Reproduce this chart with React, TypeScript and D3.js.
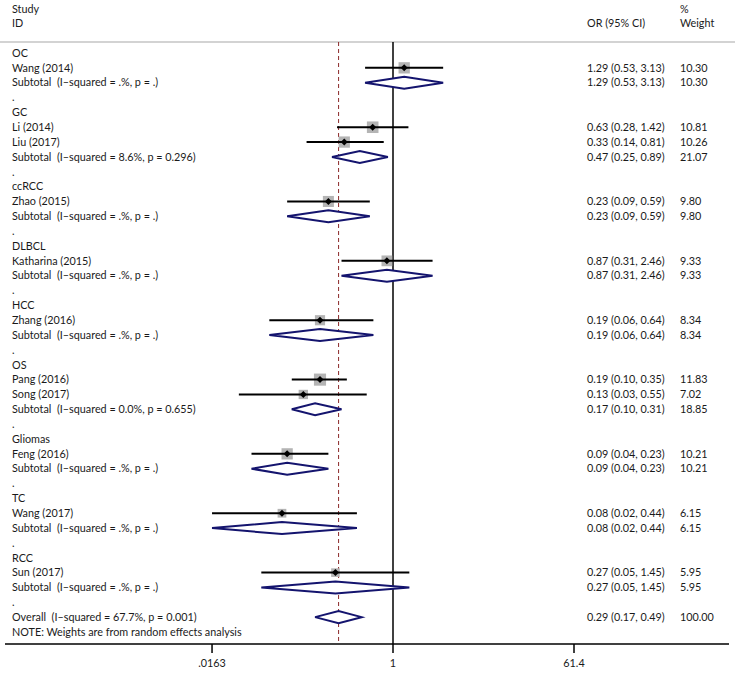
import * as d3 from 'd3';

// group headings
const groups = ['OC', 'GC', 'ccRCC', 'DLBCL', 'HCC', 'OS', 'Gliomas', 'TC', 'RCC'];

// individual studies
const studies = ['Wang (2014)', 'Li (2014)', 'Liu (2017)', 'Zhao (2015)', 'Katharina (2015)', 'Zhang (2016)',
  'Pang (2016)', 'Song (2017)', 'Feng (2016)', 'Wang (2017)', 'Sun (2017)'];
const studyGroup = [0, 1, 1, 2, 3, 4, 5, 5, 6, 7, 8];
const studyOR = [1.29, 0.63, 0.33, 0.23, 0.87, 0.19, 0.19, 0.13, 0.09, 0.08, 0.27];
const studyLo = [0.53, 0.28, 0.14, 0.09, 0.31, 0.06, 0.10, 0.03, 0.04, 0.0163, 0.05];
const studyHi = [3.13, 1.42, 0.81, 0.59, 2.46, 0.64, 0.35, 0.55, 0.23, 0.44, 1.45];
const studyWeight = [10.30, 10.81, 10.26, 9.80, 9.33, 8.34, 11.83, 7.02, 10.21, 6.15, 5.95];

// subtotals per group
const subHet = ['.%, p = .', '8.6%, p = 0.296', '.%, p = .', '.%, p = .', '.%, p = .',
  '0.0%, p = 0.655', '.%, p = .', '.%, p = .', '.%, p = .'];
const subOR = [1.29, 0.47, 0.23, 0.87, 0.19, 0.17, 0.09, 0.08, 0.27];
const subLo = [0.53, 0.25, 0.09, 0.31, 0.06, 0.10, 0.04, 0.0163, 0.05];
const subHi = [3.13, 0.89, 0.59, 2.46, 0.64, 0.31, 0.23, 0.44, 1.45];
const subWeight = [10.30, 21.07, 9.80, 9.33, 8.34, 18.85, 10.21, 6.15, 5.95];

// overall
const overallHet = '67.7%, p = 0.001';
const overallOR = 0.29;
const overallLo = 0.17;
const overallHi = 0.49;
const overallWeight = 100.0;

const axisTicks = [0.0163, 1, 61.4];
const axisTickLabels = ['.0163', '1', '61.4'];

const W = 735;
const H = 675;
const FONT = 'Lato, "Open Sans", sans-serif';
const NAVY = '#14146e';
const f2 = d3.format('.2f');

type Row =
  | { kind: 'group'; label: string }
  | { kind: 'study'; label: string; or: number; lo: number; hi: number; w: number }
  | { kind: 'sub'; label: string; or: number; lo: number; hi: number; w: number }
  | { kind: 'dot' }
  | { kind: 'note'; label: string };

function buildRows(): Row[] {
  const rows: Row[] = [];
  groups.forEach((g, gi) => {
    rows.push({ kind: 'group', label: g });
    studies.forEach((s, si) => {
      if (studyGroup[si] === gi)
        rows.push({ kind: 'study', label: s, or: studyOR[si], lo: studyLo[si], hi: studyHi[si], w: studyWeight[si] });
    });
    rows.push({ kind: 'sub', label: `Subtotal  (I\u2013squared = ${subHet[gi]})`, or: subOR[gi], lo: subLo[gi], hi: subHi[gi], w: subWeight[gi] });
    rows.push({ kind: 'dot' });
  });
  rows.push({ kind: 'sub', label: `Overall  (I\u2013squared = ${overallHet})`, or: overallOR, lo: overallLo, hi: overallHi, w: overallWeight });
  rows.push({ kind: 'note', label: 'NOTE: Weights are from random effects analysis' });
  return rows;
}

export default function App() {
  const rows = buildRows();
  const x = d3.scaleLog().domain([1 / 61.4, 61.4]).range([212, 574]);
  const y = d3.scaleLinear().domain([0, rows.length - 1]).range([53, 632]);
  const side = d3.scaleSqrt().domain([0, 12]).range([0, 12.2]);

  const top = 42;
  const axisY = 644;
  const xLabel = 12;
  const xOR = 587;
  const xW = 680;

  const textProps = { fontFamily: FONT, fontSize: 10.8, fill: '#1a1a1a' };

  return (
    <div style={{ position: 'absolute', left: 0, top: 0 }}>
      <svg width={W} height={H} style={{ display: 'block', background: '#fff' }}>
        {/* header */}
        <g {...textProps}>
          <text x={xLabel} y={9} dy="0.35em">Study</text>
          <text x={xLabel} y={23} dy="0.35em">ID</text>
          <text x={xOR} y={23} dy="0.35em">OR (95% CI)</text>
          <text x={xW} y={9} dy="0.35em">%</text>
          <text x={xW} y={23} dy="0.35em">Weight</text>
        </g>
        <line x1={0} x2={W} y1={top} y2={top} stroke="#c4c4c4" strokeWidth={1.5} />

        {/* reference lines */}
        <line x1={x(overallOR)} x2={x(overallOR)} y1={top} y2={axisY} stroke="#8b2a2a" strokeWidth={1} strokeDasharray="4,3" />
        <line x1={x(1)} x2={x(1)} y1={top} y2={axisY} stroke="#000" strokeWidth={1.5} />

        {rows.map((r, i) => {
          const cy = y(i);
          if (r.kind === 'dot')
            return <text key={i} {...textProps} x={xLabel} y={cy} dy="0.35em">.</text>;
          if (r.kind === 'group' || r.kind === 'note')
            return <text key={i} {...textProps} x={xLabel} y={cy} dy="0.35em">{r.label}</text>;
          const labels = (
            <g {...textProps}>
              <text x={xLabel} y={cy} dy="0.35em" style={{ whiteSpace: 'pre' }}>{r.label}</text>
              <text x={xOR} y={cy} dy="0.35em">{`${f2(r.or)} (${f2(r.lo)}, ${f2(r.hi)})`}</text>
              <text x={xW} y={cy} dy="0.35em">{f2(r.w)}</text>
            </g>
          );
          if (r.kind === 'study') {
            const s = side(r.w);
            const px = x(r.or);
            return (
              <g key={i}>
                <rect x={px - s / 2} y={cy - s / 2} width={s} height={s} fill="#b4b4b4" />
                <line x1={x(r.lo)} x2={x(r.hi)} y1={cy} y2={cy} stroke="#000" strokeWidth={2} />
                <path d={`M${px - 3.5},${cy}L${px},${cy - 3.5}L${px + 3.5},${cy}L${px},${cy + 3.5}Z`} fill="#000" />
                {labels}
              </g>
            );
          }
          const h = 6;
          return (
            <g key={i}>
              <path
                d={`M${x(r.lo)},${cy}L${x(r.or)},${cy - h}L${x(r.hi)},${cy}L${x(r.or)},${cy + h}Z`}
                fill="#fff"
                stroke={NAVY}
                strokeWidth={2}
                strokeLinejoin="miter"
              />
              {labels}
            </g>
          );
        })}

        {/* axis */}
        <line x1={5} x2={729} y1={axisY} y2={axisY} stroke="#000" strokeWidth={1.5} />
        {axisTicks.map((t, i) => (
          <g key={i}>
            <line x1={x(t)} x2={x(t)} y1={axisY} y2={axisY + 9} stroke="#000" strokeWidth={1.5} />
            <text {...textProps} x={x(t)} y={axisY + 19} dy="0.35em" textAnchor="middle">{axisTickLabels[i]}</text>
          </g>
        ))}
      </svg>
    </div>
  );
}
